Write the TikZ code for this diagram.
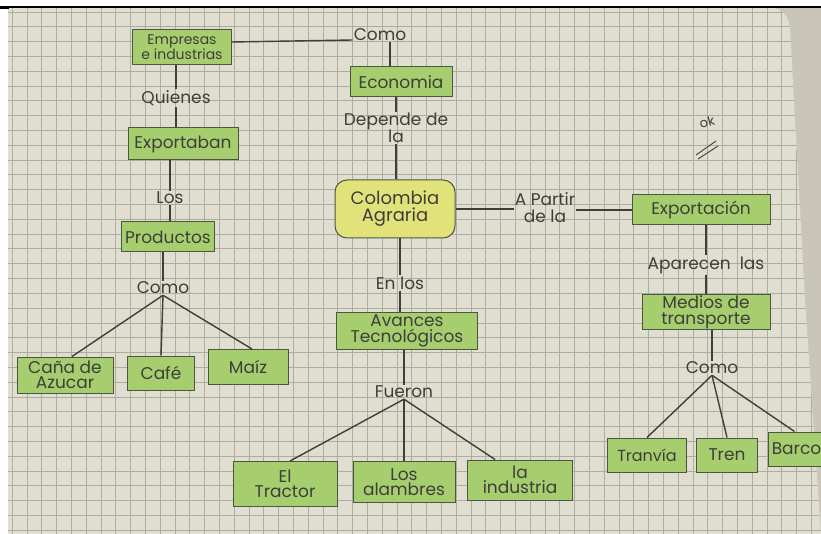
\documentclass[tikz,border=0pt]{standalone}
\usepackage{fontspec}
\setmainfont{Poppins}
\usetikzlibrary{calc}
\definecolor{paper}{HTML}{DFDED0}
\definecolor{gridc}{HTML}{ADAC9F}
\definecolor{boxgreen}{HTML}{A6CE6E}
\definecolor{boxline}{HTML}{4C5640}
\definecolor{yel}{HTML}{E2E27A}
\definecolor{ink}{HTML}{3E3E3A}
\definecolor{shadow}{HTML}{C9C6B9}
\tikzset{
  box/.style={draw=boxline, fill=boxgreen, line width=1pt, inner sep=1pt,
    align=center, text=ink, font=\fontsize{17}{15.5}\selectfont},
  lbl/.style={text=ink, align=center, inner sep=1pt, font=\fontsize{17}{17}\selectfont},
  link/.style={draw=ink, line width=1.4pt},
}
\begin{document}
\begin{tikzpicture}[x=1pt,y=-1pt]
\useasboundingbox (0,0) rectangle (821,534);
% photo background
\fill[white] (0,0) rectangle (821,534);
\fill[shadow] (8,8) rectangle (821,534);
\fill[paper] (8,8) -- (772,8) to[out=0,in=95] (790,28) -- (805,300) -- (821,534) -- (8,534) -- cycle;
\begin{scope}
\clip (8,8) -- (772,8) to[out=0,in=95] (790,28) -- (805,300) -- (821,534) -- (8,534) -- cycle;
\foreach \i in {0,...,55} {\draw[gridc, line width=0.6pt] (12+14.8*\i,8) -- (12+14.8*\i,534);}
\foreach \j in {0,...,36} {\draw[gridc, line width=0.6pt] (8,12+14.8*\j) -- (821,12+14.8*\j);}
\end{scope}
\draw[black, line width=2pt] (0,7) -- (821,7);
\fill[black] (0,6) rectangle (9,9);

% boxes
\node[box, minimum width=99pt, minimum height=35pt, font=\fontsize{14}{13}\selectfont] (emp) at (182,47) {Empresas\\e industrias};
\node[box, minimum width=110pt, minimum height=32pt] (exptb) at (183,144) {Exportaban};
\node[box, minimum width=93pt, minimum height=30pt] (prod) at (168,237) {Productos};
\node[box, minimum width=96pt, minimum height=36pt] (cana) at (65,375) {Caña de\\Azucar};
\node[box, minimum width=67pt, minimum height=34pt] (cafe) at (161,373) {Café};
\node[box, minimum width=80pt, minimum height=35pt] (maiz) at (248,367) {Maíz};
\node[box, minimum width=102pt, minimum height=30pt] (eco) at (401,82) {Economia};
\node[box, fill=yel, rounded corners=12pt, minimum width=120pt, minimum height=58pt, font=\fontsize{18}{17}\selectfont] (col) at (395,209) {Colombia\\Agraria};
\node[box, minimum width=141pt, minimum height=37pt] (ava) at (407,331) {Avances\\Tecnológicos};
\node[box, minimum width=104pt, minimum height=45pt] (trac) at (285,484) {El\\Tractor};
\node[box, minimum width=102pt, minimum height=41pt] (alam) at (404,482) {Los\\alambres};
\node[box, minimum width=105pt, minimum height=40pt] (ind) at (520,480) {la\\industria};
\node[box, minimum width=138pt, minimum height=30pt] (expn) at (701,210) {Exportación};
\node[box, minimum width=128pt, minimum height=35pt] (med) at (706,312) {Medios de\\transporte};
\node[box, minimum width=79pt, minimum height=34pt, font=\fontsize{16}{16}\selectfont] (tran) at (647,455) {Tranvía};
\node[box, minimum width=61pt, minimum height=34pt] (tren) at (727,455) {Tren};
\node[box, minimum width=56pt, minimum height=34pt, anchor=west] (barco) at (768,449) {Barco};

% labels
\node[lbl] (como1) at (380,35) {Como};
\node[lbl] (quien) at (176,98) {Quienes};
\node[lbl] (los1) at (170,198) {Los};
\node[lbl] (como2) at (163,288) {Como};
\node[lbl] (dep) at (396,128) {Depende de\\la};
\node[lbl] (apart) at (545,208) {A Partir\\de la};
\node[lbl] (enlos) at (400,283) {En los};
\node[lbl] (fue) at (404,392) {Fueron};
\node[lbl] (apar) at (706,265) {Aparecen\ \ las};
\node[lbl] (como3) at (712,368) {Como};
\node[lbl, rotate=15, font=\fontsize{13}{13}\selectfont] (ok) at (707,122) {ok};
\draw[ink, line width=0.9pt] (696,155) -- (716,141) (698,159) -- (718,146);

% connectors
\draw[link] (emp.east |- 0,42) -- (como1.west |- 0,40);
\draw[link] (como1.south -| 390,0) -- (eco.north -| 390,0);
\draw[link] (eco.south -| dep.north) -- (dep.north);
\draw[link] (dep.south) -- (dep.south |- col.north);
\draw[link] (col.south -| enlos.north) -- (enlos.north);
\draw[link] (enlos.south) -- (enlos.south |- ava.north);
\draw[link] (ava.south -| fue.north) -- (fue.north);
\draw[link] (col.east) -- (apart.west |- col.east);
\draw[link] (apart.east |- expn.west) -- (expn.west);
\draw[link] (fue.south) -- ([xshift=5pt]trac.north);
\draw[link] (fue.south) -- (fue.south |- alam.north);
\draw[link] (fue.south) -- ([xshift=-25pt]ind.north);
\draw[link] (emp.south -| quien.north) -- (quien.north);
\draw[link] (quien.south) -- (quien.south |- exptb.north);
\draw[link] (exptb.south -| los1.north) -- (los1.north);
\draw[link] (los1.south) -- (los1.south |- prod.north);
\draw[link] (prod.south -| como2.north) -- (como2.north);
\draw[link] (como2.south) -- ([xshift=7pt]cana.north);
\draw[link] (como2.south) -- (cafe.north);
\draw[link] (como2.south) -- ([xshift=4pt]maiz.north);
\draw[link] (expn.south -| apar.north) -- (apar.north);
\draw[link] (apar.south) -- (apar.south |- med.north);
\draw[link] (med.south -| como3.north) -- (como3.north);
\draw[link] (como3.south) -- (tran.north);
\draw[link] (como3.south) -- (tren.north);
\draw[link] (como3.south) -- ([xshift=-2pt]barco.north);
\end{tikzpicture}
\end{document}
